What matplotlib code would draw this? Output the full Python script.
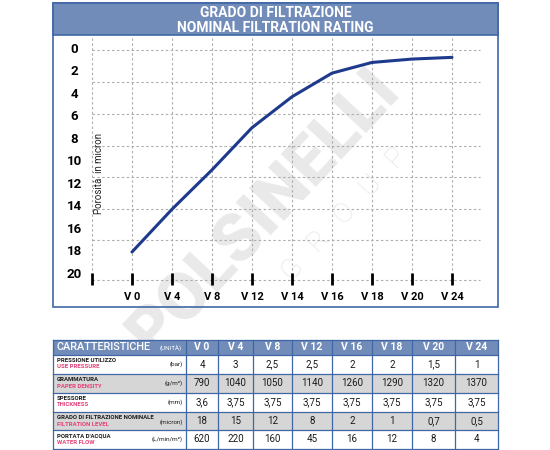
import matplotlib
matplotlib.use("Agg")
import matplotlib.pyplot as plt
from matplotlib.patches import Rectangle

# ---------------- data ----------------
grades = ["V 0", "V 4", "V 8", "V 12", "V 14", "V 16", "V 18", "V 20", "V 24"]
porosity = [18.0, 14.2, 10.7, 6.95, 4.2, 2.1, 1.15, 0.85, 0.7]
y_tick_values = [0, 2, 4, 6, 8, 10, 12, 14, 16, 18, 20]

table_cols = ["V 0", "V 4", "V 8", "V 12", "V 16", "V 18", "V 20", "V 24"]
row_it = ["PRESSIONE UTILIZZO", "GRAMMATURA", "SPESSORE",
          "GRADO DI FILTRAZIONE NOMINALE", "PORTATA D'ACQUA"]
row_en = ["USE PRESSURE", "PAPER DENSITY", "THICKNESS",
          "FILTRATION LEVEL", "WATER FLOW"]
row_units = ["(bar)", "(g/m²)", "(mm)", "(micron)", "(L/min/m²)"]
use_pressure = ["4", "3", "2,5", "2,5", "2", "2", "1,5", "1"]
paper_density = ["790", "1040", "1050", "1140", "1260", "1290", "1320", "1370"]
thickness = ["3,6", "3,75", "3,75", "3,75", "3,75", "3,75", "3,75", "3,75"]
filtration_level = ["18", "15", "12", "8", "2", "1", "0,7", "0,5"]
water_flow = ["620", "220", "160", "45", "16", "12", "8", "4"]
table_rows = [use_pressure, paper_density, thickness, filtration_level, water_flow]

# ---------------- style ----------------
BAR = "#728cba"
BORDER = "#3f67a6"
LINE = "#1e3a8c"
GRID = "#aeaeae"
PINK = "#e2407a"
FONT = "Roboto"

fig = plt.figure(figsize=(5.5, 4.5), dpi=100)
bg = fig.add_axes([0, 0, 1, 1])
bg.set_xlim(0, 550)
bg.set_ylim(450, 0)
bg.axis("off")

# watermark
bg.text(265, 212, "POLSINELLI", rotation=47, fontsize=48, fontweight="black",
        color="#e9e9e9", ha="center", va="center", family=FONT, zorder=0)
bg.text(345, 215, "G   R   O   U   P", rotation=47, fontsize=20, fontweight="light",
        color="#e6e6e6", ha="center", va="center", family=FONT, zorder=0)

# chart frame and title bar
bg.add_patch(Rectangle((53, 3), 445, 304, facecolor="none", edgecolor=BORDER, lw=1.2, zorder=3))
bg.add_patch(Rectangle((53, 3), 445, 32, facecolor=BAR, edgecolor=BORDER, lw=1.2, zorder=3))
bg.text(275.5, 13, "GRADO DI FILTRAZIONE", color="white", fontsize=10, fontweight="bold",
        ha="center", va="center", family=FONT, zorder=4)
bg.text(275.5, 28, "NOMINAL FILTRATION RATING", color="white", fontsize=10, fontweight="bold",
        ha="center", va="center", family=FONT, zorder=4)

# ---------------- chart ----------------
ax = fig.add_axes([53 / 550, (450 - 307) / 450, 445 / 550, 272 / 450])
ax.set_xlim(-1.975, 9.15)
ax.set_ylim(22.89, -1.289)
ax.axis("off")
ax.patch.set_alpha(0)

dash = (0, (2.2, 2.2))
n = len(grades)
for i in range(-1, n):
    ax.plot([i, i], [20.5, -1.15], color=GRID, lw=0.8, ls=dash, zorder=1)
for g in [0.05, 2.9, 5.75, 8.6, 11.35, 14.2, 16.95, 20.5]:
    ax.plot([-1, 8.7], [g, g], color=GRID, lw=0.8, ls=dash, zorder=1)
for i in range(-1, n):
    ax.plot([i, i], [19.85, 20.95], color="black", lw=2.0, solid_capstyle="butt", zorder=2)

ax.plot(range(n), porosity, color=LINE, lw=2.2, solid_capstyle="round",
        solid_joinstyle="round", zorder=5)

for v in y_tick_values:
    ax.text(-1.45, v, str(v), ha="center", va="center", fontsize=9.5,
            fontweight="bold", family=FONT)
for i, g in enumerate(grades):
    ax.text(i, 22.0, g, ha="center", va="center", fontsize=8,
            fontweight="bold", family=FONT)
ax.text(-0.825, 11.0, "Porosità  in micron", rotation=90, ha="center", va="center",
        fontsize=7, family=FONT, color="#222222")

# ---------------- table ----------------
col_x = [52.7, 186, 218, 253, 292, 332, 372, 412, 455, 498]
row_y = [340, 355, 374, 393, 412, 430, 449]

# header
bg.add_patch(Rectangle((col_x[0], row_y[0]), col_x[-1] - col_x[0], row_y[1] - row_y[0],
                       facecolor=BAR, edgecolor="none", zorder=2))
bg.text(col_x[0] + 4, (row_y[0] + row_y[1]) / 2, "CARATTERISTICHE", color="white",
        fontsize=7.8, fontweight="medium", ha="left", va="center", family=FONT, zorder=4)
bg.text(col_x[1] - 4, (row_y[0] + row_y[1]) / 2, "(UNITÀ)", color="white",
        fontsize=4.5, ha="right", va="center", family=FONT, zorder=4)
for j, c in enumerate(table_cols):
    bg.text((col_x[j + 1] + col_x[j + 2]) / 2, (row_y[0] + row_y[1]) / 2, c, color="white",
            fontsize=7.5, fontweight="bold", ha="center", va="center", family=FONT, zorder=4)

# body
for r in range(len(table_rows)):
    y0, y1 = row_y[r + 1], row_y[r + 2]
    fc = "#d6d6d6" if r % 2 == 1 else "white"
    bg.add_patch(Rectangle((col_x[0], y0), col_x[-1] - col_x[0], y1 - y0,
                           facecolor=fc, edgecolor="none", zorder=2))
    bg.text(col_x[0] + 4, y0 + 5.5, row_it[r], fontsize=4.3, fontweight="bold",
            ha="left", va="center", family=FONT, color="#1a1a1a", zorder=4)
    bg.text(col_x[0] + 4, y0 + 12, row_en[r], fontsize=4.3, fontweight="bold",
            ha="left", va="center", family=FONT, color=PINK, zorder=4)
    bg.text(col_x[1] - 3, (y0 + y1) / 2 + (1.5 if r == 3 else 0), row_units[r], fontsize=4.5,
            ha="right", va="center", family=FONT, color="#1a1a1a", zorder=4)
    for j, val in enumerate(table_rows[r]):
        bg.text((col_x[j + 1] + col_x[j + 2]) / 2, (y0 + y1) / 2, val, fontsize=7,
                ha="center", va="center", family=FONT, color="#1a1a1a", zorder=4)

# cell borders
for x in col_x:
    bg.plot([x, x], [row_y[0], row_y[-1]], color=BORDER, lw=0.9, zorder=3)
for y in row_y:
    bg.plot([col_x[0], col_x[-1]], [y, y], color=BORDER, lw=0.9, zorder=3)

fig.savefig("out.png", dpi=100)
